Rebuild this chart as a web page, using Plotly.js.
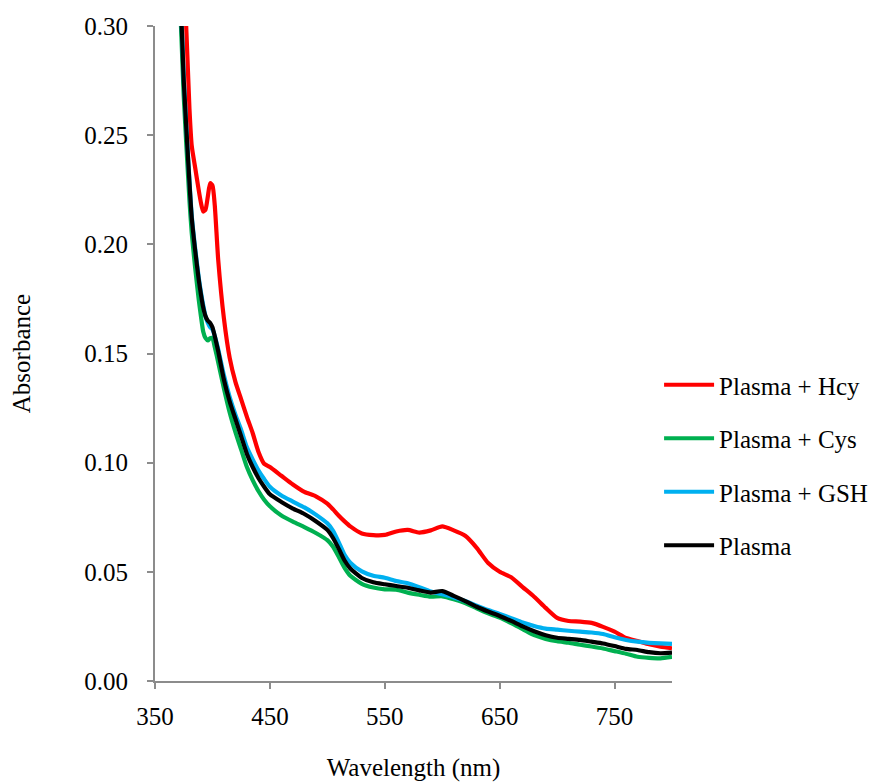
<!DOCTYPE html>
<html>
<head>
<meta charset="utf-8">
<script src="https://cdn.plot.ly/plotly-3.0.1.min.js"></script>
<style>html,body{margin:0;padding:0;background:#fff;}#chart{width:880px;height:782px;}</style>
</head>
<body>
<div id="chart"></div>
<script>
const wavelength = [370,375,380,382,385,388,390,392,394,396,398,400,402,405,410,415,420,425,430,435,440,445,450,460,470,480,490,500,505,510,515,520,530,540,550,560,570,580,590,600,610,620,630,640,650,660,670,680,690,700,710,720,730,740,750,760,770,780,790,800];

const plasmaHcy = [0.40,0.33,0.262,0.245,0.235,0.225,0.219,0.215,0.216,0.222,0.228,0.227,0.218,0.193,0.166,0.148,0.137,0.129,0.121,0.1136,0.105,0.0995,0.098,0.094,0.090,0.0866,0.0846,0.0812,0.0786,0.0757,0.0731,0.0708,0.0676,0.0668,0.0669,0.0685,0.0692,0.068,0.069,0.0708,0.069,0.0665,0.061,0.054,0.050,0.0475,0.043,0.0386,0.0335,0.0289,0.0275,0.0272,0.0266,0.0248,0.0226,0.0197,0.0183,0.0168,0.0157,0.0150];

const plasmaCys = [0.335,0.268,0.220,0.205,0.189,0.175,0.167,0.160,0.157,0.156,0.157,0.157,0.153,0.146,0.134,0.123,0.114,0.106,0.098,0.092,0.087,0.083,0.080,0.0758,0.0730,0.0705,0.0678,0.0645,0.0615,0.0568,0.0518,0.0482,0.0445,0.0428,0.0420,0.0418,0.0405,0.0395,0.0386,0.0388,0.0375,0.0357,0.0333,0.031,0.0290,0.0265,0.0238,0.021,0.0193,0.0182,0.0175,0.0166,0.0158,0.0149,0.0137,0.0125,0.0111,0.0106,0.0104,0.0111];

const plasmaGSH = [0.345,0.276,0.229,0.213,0.198,0.185,0.178,0.172,0.167,0.164,0.162,0.161,0.158,0.152,0.140,0.130,0.122,0.115,0.107,0.1015,0.0965,0.0925,0.089,0.085,0.0822,0.0795,0.0762,0.0722,0.0688,0.0635,0.0578,0.0542,0.0502,0.0482,0.0473,0.0458,0.0448,0.0430,0.0410,0.0397,0.0383,0.0366,0.0345,0.0325,0.0307,0.0288,0.0268,0.0252,0.0240,0.0235,0.023,0.0226,0.0222,0.0215,0.0200,0.0188,0.0180,0.0175,0.0172,0.0170];

const plasma = [0.345,0.275,0.228,0.212,0.197,0.184,0.177,0.171,0.167,0.165,0.164,0.162,0.158,0.151,0.138,0.128,0.120,0.112,0.104,0.098,0.093,0.089,0.0855,0.082,0.079,0.0765,0.0732,0.0692,0.0655,0.0605,0.0552,0.0515,0.0472,0.0452,0.0443,0.0435,0.0427,0.0415,0.0405,0.0412,0.039,0.0366,0.034,0.0318,0.0298,0.0275,0.025,0.0228,0.021,0.0198,0.0193,0.0188,0.018,0.0172,0.016,0.0147,0.0142,0.0132,0.0127,0.0130];

const seriesNames = ["Plasma + Hcy","Plasma + Cys","Plasma + GSH","Plasma"];
const seriesColors = ["#FF0000","#00B050","#00B0F0","#000000"];
const seriesValues = [plasmaHcy, plasmaCys, plasmaGSH, plasma];

const xTicks = [350,450,550,650,750];
const yTicks = [0,0.05,0.10,0.15,0.20,0.25,0.30];
const yTickText = ["0.00","0.05","0.10","0.15","0.20","0.25","0.30"];

const FONT = "Liberation Serif";

const traces = seriesValues.map((vals, i) => ({
  type: "scatter",
  mode: "lines",
  x: wavelength,
  y: vals,
  name: seriesNames[i],
  legendgroup: "g" + i,
  line: {color: seriesColors[i], width: 4.2, shape: "spline", smoothing: 0.6}
}));

const layout = {
  width: 880,
  height: 782,
  margin: {l: 155, r: 208, t: 26, b: 101, autoexpand: false},
  paper_bgcolor: "#ffffff",
  plot_bgcolor: "#ffffff",
  font: {family: FONT, size: 25, color: "#000000"},
  showlegend: true,
  legend: {
    x: 0.975, y: 0.487, xanchor: "left", yanchor: "top",
    font: {family: FONT, size: 25, color: "#000000"},
    tracegroupgap: 18,
    itemwidth: 50,
    bgcolor: "rgba(0,0,0,0)"
  },
  xaxis: {
    range: [350, 800],
    tickvals: xTicks,
    ticktext: xTicks.map(String),
    showgrid: false,
    zeroline: false,
    showline: true,
    linecolor: "#8c8c8c",
    linewidth: 2,
    ticks: "outside",
    ticklen: 6,
    tickwidth: 2,
    tickcolor: "#8c8c8c",
    ticklabelstandoff: 6,
    tickfont: {family: FONT, size: 25, color: "#000000"},
    title: {text: "Wavelength (nm)", font: {family: FONT, size: 25, color: "#000000"}, standoff: 34}
  },
  yaxis: {
    range: [0, 0.30],
    tickvals: yTicks,
    ticktext: yTickText,
    showgrid: false,
    zeroline: false,
    showline: true,
    linecolor: "#8c8c8c",
    linewidth: 2,
    ticks: "outside",
    ticklen: 6,
    tickwidth: 2,
    tickcolor: "#8c8c8c",
    ticklabelstandoff: 14,
    tickfont: {family: FONT, size: 25, color: "#000000"},
    title: {text: "Absorbance", font: {family: FONT, size: 25, color: "#000000"}, standoff: 47}
  }
};

Plotly.newPlot("chart", traces, layout, {displayModeBar: false, responsive: false});
</script>
</body>
</html>
